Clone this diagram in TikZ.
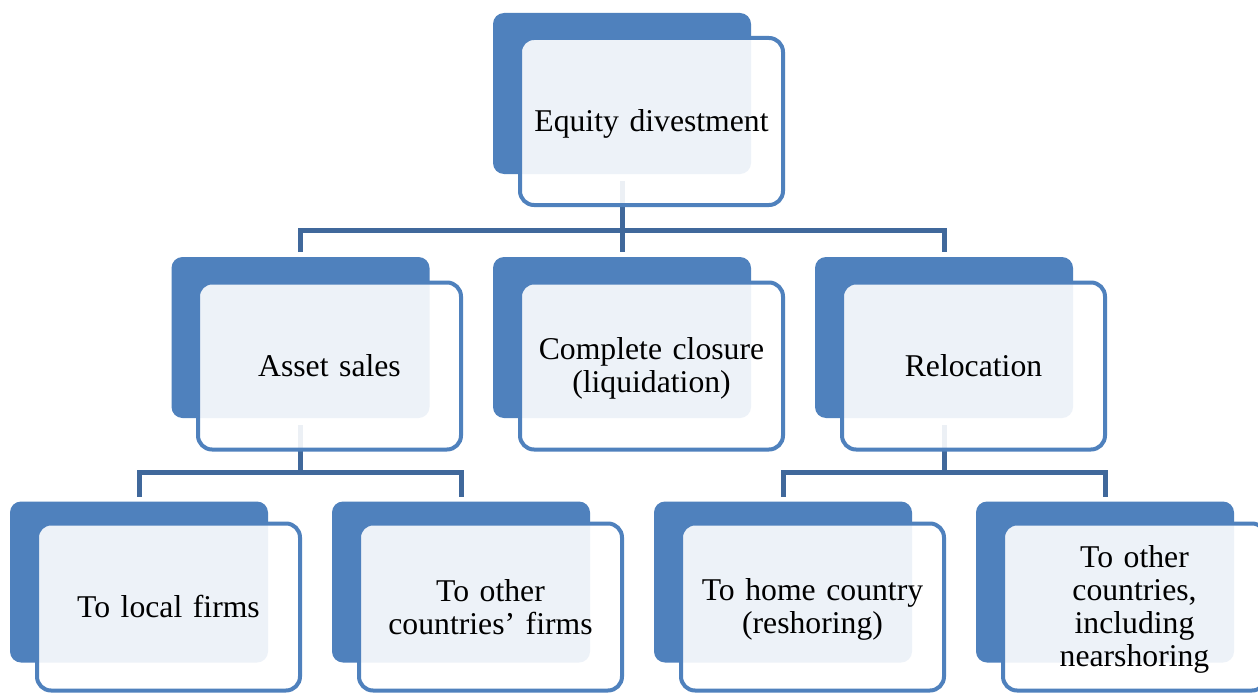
\documentclass[tikz,border=0pt]{standalone}
\usepackage{fontspec}
\setmainfont{Liberation Serif}
\definecolor{boxblue}{RGB}{79,129,189}
\definecolor{linkblue}{RGB}{64,104,155}
\newcommand{\topstrut}{\rule{0pt}{27pt}}
\newcommand{\botstrut}{\rule[-6pt]{0pt}{6pt}}
\tikzset{
  darkbox/.style={draw=none, fill=boxblue, rounded corners=11pt,
    minimum width=258pt, minimum height=161pt, inner sep=0pt, outer sep=0pt},
  lightbox/.style={draw=boxblue, line width=4pt, fill=white, fill opacity=0.9,
    text opacity=1, rounded corners=14pt, minimum width=263pt, minimum height=167pt,
    inner sep=0pt, outer sep=0pt, align=center, text width=250pt,
    font=\fontsize{31.7}{33}\selectfont,
    execute at begin node={\topstrut}, execute at end node={\botstrut}},
  conn/.style={draw=linkblue, line width=5pt}
}
\begin{document}
\begin{tikzpicture}[x=1pt,y=-1pt]
\useasboundingbox (0,0) rectangle (1258,693);
\fill[white] (0,0) rectangle (1258,693);
% dark boxes
\node[darkbox] (d1) at (622,93.5) {};
\node[darkbox] (d2a) at (300.5,337.5) {};
\node[darkbox] (d2b) at (622,337.5) {};
\node[darkbox] (d2c) at (944,337.5) {};
\node[darkbox] (d3a) at (139,582) {};
\node[darkbox] (d3b) at (461,582) {};
\node[darkbox] (d3c) at (783,582) {};
\node[darkbox] (d3d) at (1105,582) {};
% connectors
\coordinate (b1) at (622,230);
\coordinate (b2) at (300.5,472);
\coordinate (b3) at (944,472);
\draw[conn] ([yshift=-7pt]d1.south) -- ([yshift=5pt]d2b.north);
\draw[conn] ([yshift=5pt]d2a.north) |- (b1) -| ([yshift=5pt]d2c.north);
\draw[conn] ([yshift=-7pt]d2a.south) -- (b2);
\draw[conn] ([yshift=5pt]d3a.north) |- (b2) -| ([yshift=5pt]d3b.north);
\draw[conn] ([yshift=-7pt]d2c.south) -- (b3);
\draw[conn] ([yshift=5pt]d3c.north) |- (b3) -| ([yshift=5pt]d3d.north);
% light boxes
\node[lightbox] (l1) at (651.5,121.5) {Equity divestment};
\node[lightbox] (l2a) at (329.5,366) {Asset sales};
\node[lightbox] (l2b) at (651.5,366) {Complete closure\\(liquidation)};
\node[lightbox] (l2c) at (973.5,366) {Relocation};
\node[lightbox] (l3a) at (168.5,607) {To local firms};
\node[lightbox] (l3b) at (490.5,607) {To other\\countries’ firms};
\node[lightbox] (l3c) at (812.5,607) {To home country\\(reshoring)};
\node[lightbox] (l3d) at (1134.5,607) {To other\\countries,\\including\\nearshoring};
\end{tikzpicture}
\end{document}
